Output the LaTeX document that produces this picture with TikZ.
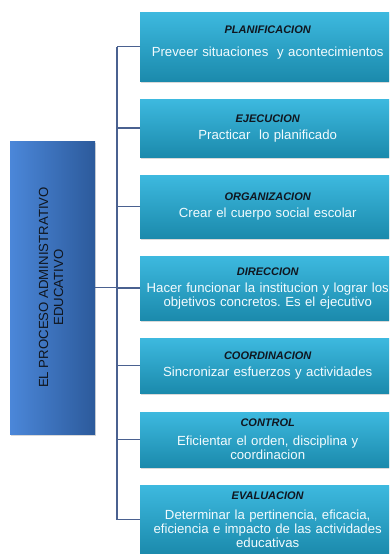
\documentclass[tikz,border=0pt]{standalone}
\usepackage{fontspec}
\setmainfont{Liberation Sans}
\usetikzlibrary{calc,shadows}
\frenchspacing

\definecolor{stageTop}{HTML}{3DB9DF}
\definecolor{stageBottom}{HTML}{1B8AAC}
\definecolor{procLeft}{HTML}{4B87D9}
\definecolor{procRight}{HTML}{2C5A9B}
\definecolor{treeLine}{HTML}{4A6190}
\definecolor{titleInk}{HTML}{10161F}

\tikzset{
  stage/.style={anchor=north west, inner sep=0pt, minimum width=255pt,
    top color=stageTop, bottom color=stageBottom, text=white!95!cyan,
    align=center, text width=255pt,
    font=\fontsize{13.2}{14}\selectfont,
    drop shadow={opacity=0.3, shadow xshift=0.8pt, shadow yshift=-1.6pt}},
  branch/.style={treeLine, line width=1.5pt},
}

\begin{document}
\begin{tikzpicture}[x=1pt,y=-1pt]
  \useasboundingbox (0,0) rectangle (389,554);
  \clip (0,0) rectangle (389,554);

  %% Main box, its text runs upwards
  \node[minimum width=85pt, minimum height=293pt, inner sep=0pt,
        left color=procLeft, right color=procRight,
        drop shadow={opacity=0.3, shadow xshift=0.8pt, shadow yshift=-1.6pt}]
        (PROC) at (52.5,287.5) {};
  \node[rotate=90, text=titleInk, align=center, font=\fontsize{13.2}{15}\selectfont]
        (PROCtext) at ($(PROC.center)+(-1.5,0)$) {EL PROCESO ADMINISTRATIVO\\EDUCATIVO};

  \coordinate (TRUNK) at (117,0);

  %% Stages of the process
  \foreach \ya/\yb/\gap/\name/\title/\body in
    {12/81/9/PLAN/PLANIFICACION/{Preveer situaciones\ \ y acontecimientos\\[-2pt]\mbox{}},
     99/157/3/EJEC/EJECUCION/{Practicar\ \ lo planificado},
     175/238/3/ORGA/ORGANIZACION/{Crear el cuerpo social escolar},
     256/320/3/DIRE/DIRECCION/{Hacer funcionar la institucion y lograr los\\objetivos concretos. Es el ejecutivo},
     338/393/3/COOR/COORDINACION/{Sincronizar esfuerzos y actividades},
     412/467/5/CONT/CONTROL/{Eficientar el orden, disciplina y\\coordinacion},
     485/554/6/EVAL/EVALUACION/{Determinar la pertinencia, eficacia,\\eficiencia e impacto de las actividades\\educativas}}
  {
    \node[stage, minimum height=\yb-\ya] (\name) at (140,\ya)
      {{\fontsize{11}{13}\selectfont\bfseries\itshape\color{titleInk}\title}\\[\gap pt] \body};
    \draw[branch] (\name.west) -- (\name.west -| TRUNK);
  }

  %% Trunk of the tree
  \draw[branch] (PLAN.west -| TRUNK) -- (EVAL.west -| TRUNK);
  \draw[branch] (PROC.east) -- (PROC.east -| TRUNK);

\end{tikzpicture}
\end{document}
